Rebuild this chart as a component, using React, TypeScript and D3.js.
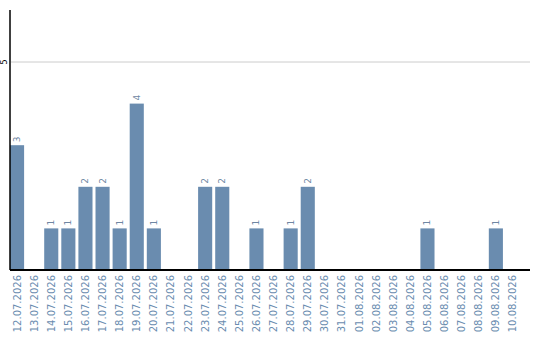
import React from "react";
import * as d3 from "d3";

const dates = [
  "12.07.2026", "13.07.2026", "14.07.2026", "15.07.2026", "16.07.2026",
  "17.07.2026", "18.07.2026", "19.07.2026", "20.07.2026", "21.07.2026",
  "22.07.2026", "23.07.2026", "24.07.2026", "25.07.2026", "26.07.2026",
  "27.07.2026", "28.07.2026", "29.07.2026", "30.07.2026", "31.07.2026",
  "01.08.2026", "02.08.2026", "03.08.2026", "04.08.2026", "05.08.2026",
  "06.08.2026", "07.08.2026", "08.08.2026", "09.08.2026", "10.08.2026",
];
const counts = [
  3, 0, 1, 1, 2, 2, 1, 4, 1, 0,
  0, 2, 2, 0, 1, 0, 1, 2, 0, 0,
  0, 0, 0, 0, 1, 0, 0, 0, 1, 0,
];
const yTicks = [5];
const yMax = 6.25;

const W = 540;
const H = 340;
const left = 10;
const top = 10;
const bottom = 270;
const barsRight = 520;
const axisRight = 530;
const barColor = "#6a8caf";
const font = "DejaVu Sans, sans-serif";

export default function App() {
  const x = d3
    .scaleBand<string>()
    .domain(dates)
    .range([left, barsRight])
    .paddingInner(3 / 17)
    .paddingOuter(0)
    .align(0);
  // shift so bars start flush on the axis
  const step = x.step();
  const bw = step - 3;
  const bx = (d: string) => left + dates.indexOf(d) * step;
  const y = d3.scaleLinear().domain([0, yMax]).range([bottom, top]);

  return (
    <svg
      width={W}
      height={H}
      style={{ position: "absolute", left: 0, top: 0 }}
    >
      <rect width={W} height={H} fill="#fff" />
      {yTicks.map((t) => (
        <g key={t}>
          <line
            x1={left + 1}
            x2={axisRight}
            y1={y(t)}
            y2={y(t)}
            stroke="#cccccc"
            strokeWidth={1}
          />
          <text
            transform={`translate(7,${y(t)}) rotate(-90)`}
            textAnchor="middle"
            fontFamily={font}
            fontSize={8}
            fill="#000"
          >
            {t}
          </text>
        </g>
      ))}
      {dates.map((d, i) =>
        counts[i] > 0 ? (
          <g key={d}>
            <rect
              x={bx(d)}
              y={y(counts[i])}
              width={bw}
              height={bottom - y(counts[i])}
              fill={barColor}
            />
            <text
              transform={`translate(${bx(d) + bw / 2 + 3},${y(counts[i]) - 3}) rotate(-90)`}
              textAnchor="start"
              fontFamily={font}
              fontSize={9}
              fill="#6f87a3"
            >
              {counts[i]}
            </text>
          </g>
        ) : null
      )}
      <line x1={left} x2={left} y1={top} y2={bottom} stroke="#000" strokeWidth={1.5} />
      <line x1={left} x2={axisRight} y1={bottom} y2={bottom} stroke="#000" strokeWidth={2} />
      {dates.map((d) => (
        <text
          key={"l" + d}
          transform={`translate(${bx(d) + bw / 2 + 3.5},${bottom + 5}) rotate(-90)`}
          textAnchor="end"
          fontFamily={font}
          fontSize={10}
          fill={barColor}
        >
          {d}
        </text>
      ))}
    </svg>
  );
}
